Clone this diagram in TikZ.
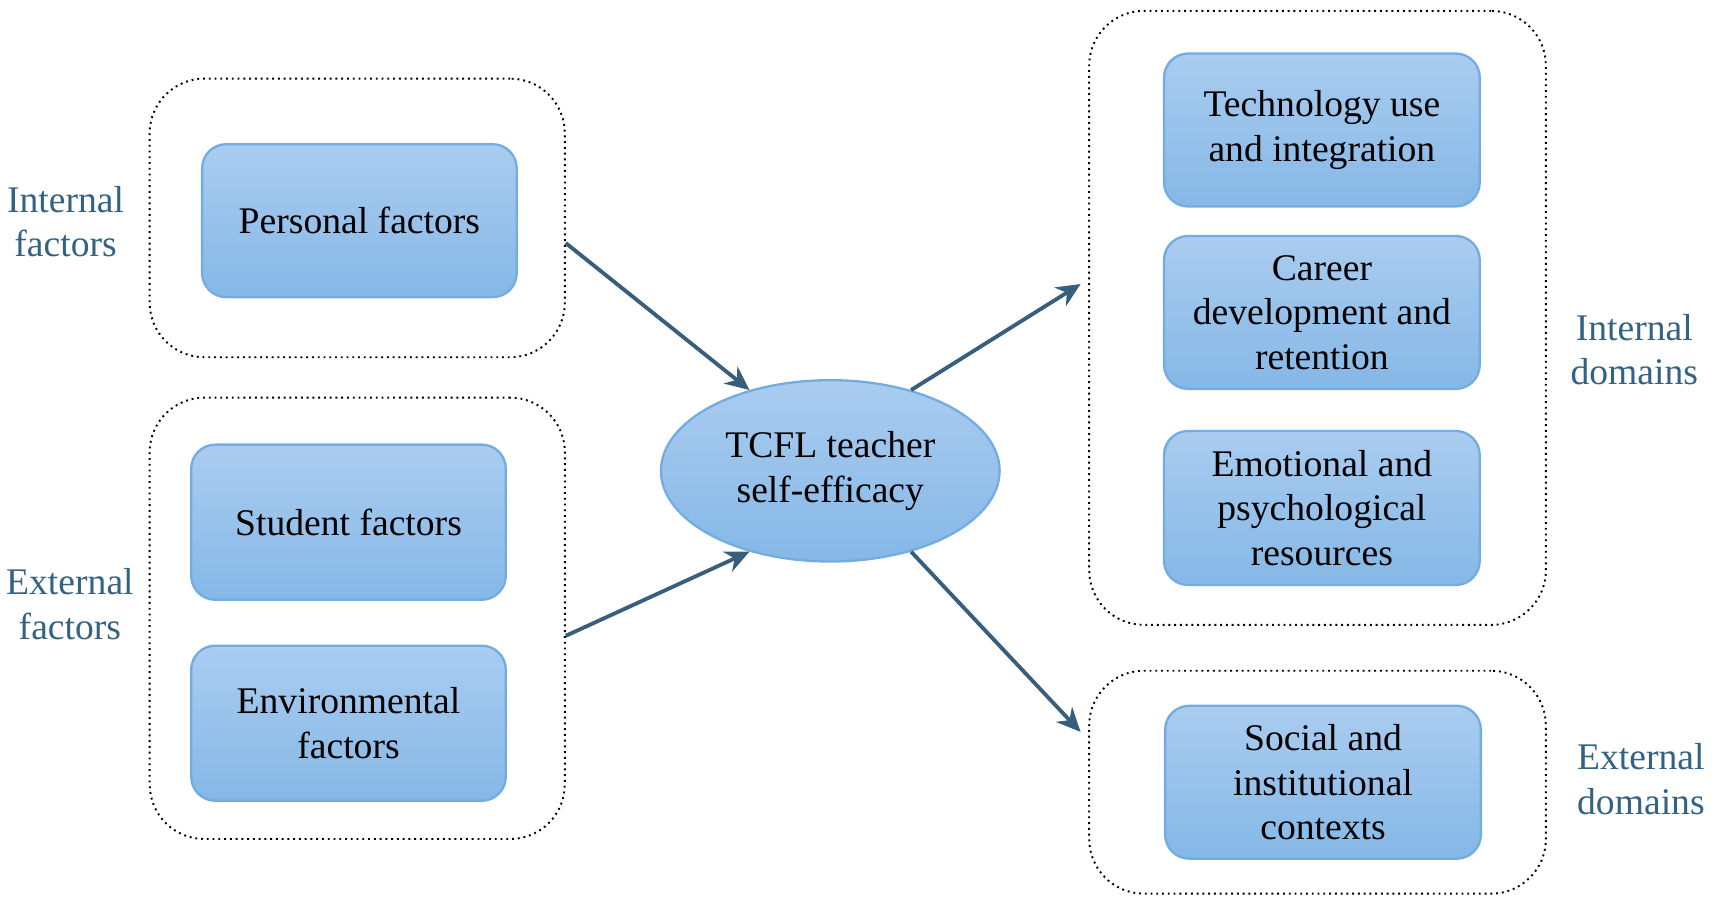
\documentclass[tikz,border=0pt]{standalone}
\usepackage{fontspec}
\setmainfont{Liberation Serif}
\usetikzlibrary{calc,shapes.geometric,arrows.meta}
\definecolor{boxtop}{RGB}{170,204,240}
\definecolor{boxbot}{RGB}{133,184,230}
\definecolor{boxline}{RGB}{115,172,224}
\definecolor{lab}{RGB}{52,98,130}
\definecolor{arr}{RGB}{55,95,125}
\tikzset{
 bx/.style={draw=boxline, line width=0.6pt, rounded corners=2.2mm, top color=boxtop, bottom color=boxbot, minimum width=#1, align=center, font=\fontsize{9.8}{11.6}\selectfont, inner sep=0pt},
 grp/.style={draw, densely dotted, line width=0.5pt, rounded corners=5mm, inner sep=0pt},
 lbl/.style={text=lab, align=center, font=\fontsize{9.8}{11.6}\selectfont},
 ar/.style={draw=arr, line width=1pt, -{Stealth[length=2.2mm,width=2mm]}}
}
\begin{document}
\begin{tikzpicture}[x=0.1mm,y=-0.1mm]
\useasboundingbox (0,0) rectangle (1568,828);
% groups
\node[grp, minimum width=38mm, minimum height=25.5mm] (lt) at (327,199.5) {};
\node[grp, minimum width=38mm, minimum height=40.4mm] (lb) at (327,566) {};
\node[grp, minimum width=41.8mm, minimum height=56.2mm] (rt) at (1206,291) {};
\node[grp, minimum width=41.8mm, minimum height=20.4mm] (rb) at (1206,716) {};
% boxes
\node[bx=28.8mm, minimum height=14mm] (pers) at (329,202) {Personal factors};
\node[bx=28.8mm, minimum height=14.2mm] (stud) at (319,478) {Student factors};
\node[bx=28.8mm, minimum height=14.2mm] (env) at (319,662) {Environmental\\factors};
\node[bx=28.9mm, minimum height=14mm] (tech) at (1210,119) {Technology use\\and integration};
\node[bx=28.9mm, minimum height=14mm] (car) at (1210,286) {Career\\development and\\retention};
\node[bx=28.9mm, minimum height=14.1mm] (emo) at (1210,465) {Emotional and\\psychological\\resources};
\node[bx=28.9mm, minimum height=14mm] (soc) at (1211,716) {Social and\\institutional\\contexts};
\node[ellipse, draw=boxline, line width=0.6pt, top color=boxtop, bottom color=boxbot, minimum width=31mm, minimum height=16.6mm, inner sep=0pt, align=center, font=\fontsize{9.8}{11.6}\selectfont] (tcfl) at (760,431) {TCFL teacher\\self-efficacy};
% labels
\node[lbl] (l1) at (60,203) {Internal\\factors};
\node[lbl] (l2) at (64,553) {External\\factors};
\node[lbl] (l3) at (1496,320) {Internal\\domains};
\node[lbl] (l4) at (1502,713) {External\\domains};
% arrows
\coordinate (a1) at ($(lt.east)+(0,23)$);
\coordinate (a2) at ($(lb.east)+(0,16)$);
\coordinate (a3) at ($(rt.west)+(-7,-31)$);
\coordinate (a4) at ($(rb.west)+(-7,-46)$);
\draw[ar] (a1) -- (tcfl.135);
\draw[ar] (a2) -- (tcfl.-135);
\draw[ar] (tcfl.45) -- (a3);
\draw[ar] (tcfl.-45) -- (a4);
\end{tikzpicture}
\end{document}
